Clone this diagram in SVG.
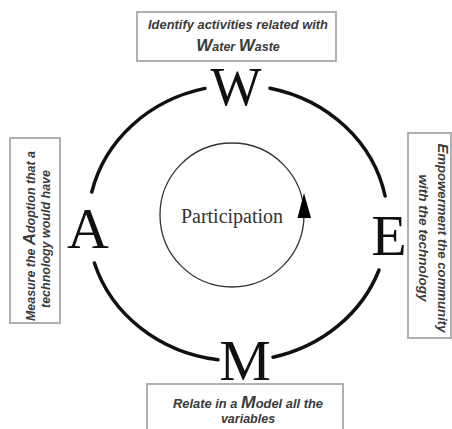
<svg xmlns="http://www.w3.org/2000/svg" width="452" height="429" viewBox="0 0 452 429">
<style>
.box{fill:#fff;stroke:#a8a8a8;stroke-width:1.8}
.lbl{font-family:"Liberation Sans",Arial,sans-serif;font-style:italic;font-weight:bold;font-size:12.5px;fill:#3a3a3a}
.big{font-size:17px}
.letter{font-family:"Liberation Serif","Times New Roman",serif;font-size:58px;fill:#111;text-anchor:middle}
.arc{fill:none;stroke:#111;stroke-width:3.5;stroke-linecap:round}
</style>
<rect width="452" height="429" fill="#fff"/>
<g id="connectors">
<path class="arc" d="M270,88.2 A150,138 0 0 1 385.1,196"/>
<path class="arc" d="M379,270 A150,138 0 0 1 273,357.2"/>
<path class="arc" d="M218,359.8 A150,138 0 0 1 94.4,263"/>
<path class="arc" d="M91.8,192 A150,138 0 0 1 205,88.4"/>
</g>
<g id="W">
<rect class="box" x="137" y="12" width="199" height="49"/>
<text class="lbl" x="238" y="29" text-anchor="middle" textLength="180" lengthAdjust="spacingAndGlyphs">Identify activities related with</text>
<text class="lbl" x="238" y="51" text-anchor="middle"><tspan class="big">W</tspan>ater <tspan class="big">W</tspan>aste</text>
<text class="letter" x="236" y="105" style="font-size:54px">W</text>
</g>
<g id="A">
<rect class="box" x="10" y="138" width="50" height="185"/>
<g transform="translate(35,236) rotate(-90)">
<text class="lbl" x="0" y="0" text-anchor="middle" textLength="170" lengthAdjust="spacingAndGlyphs">Measure the <tspan class="big">A</tspan>doption that a</text>
</g>
<g transform="translate(50,239) rotate(-90)">
<text class="lbl" x="0" y="0" text-anchor="middle" textLength="138" lengthAdjust="spacingAndGlyphs">technology would have</text>
</g>
<text class="letter" x="88" y="248">A</text>
</g>
<g id="E">
<rect class="box" x="408" y="133" width="43" height="205"/>
<g transform="translate(438,238) rotate(90)">
<text class="lbl" x="0" y="0" text-anchor="middle" textLength="189" lengthAdjust="spacingAndGlyphs"><tspan style="font-size:14px">E</tspan>mpowerment the community</text>
</g>
<g transform="translate(419,238) rotate(90)">
<text class="lbl" x="0" y="0" text-anchor="middle" textLength="127" lengthAdjust="spacingAndGlyphs">with the technology</text>
</g>
<text class="letter" x="389" y="255">E</text>
</g>
<g id="M">
<rect class="box" x="147" y="384" width="196" height="60"/>
<text class="lbl" x="248" y="408" text-anchor="middle" textLength="150" lengthAdjust="spacingAndGlyphs">Relate in a <tspan class="big">M</tspan>odel all the</text>
<text class="lbl" x="248" y="423" text-anchor="middle">variables</text>
<text class="letter" x="245" y="380">M</text>
</g>
<g id="participation">
<circle cx="232" cy="215" r="72" fill="none" stroke="#333" stroke-width="1.3"/>
<polygon points="304,193 297.5,218 311,218" fill="#000"/>
<text x="232" y="223" text-anchor="middle" font-family="'Liberation Serif','Times New Roman',serif" font-size="20" fill="#333">Participation</text>
</g>
</svg>
